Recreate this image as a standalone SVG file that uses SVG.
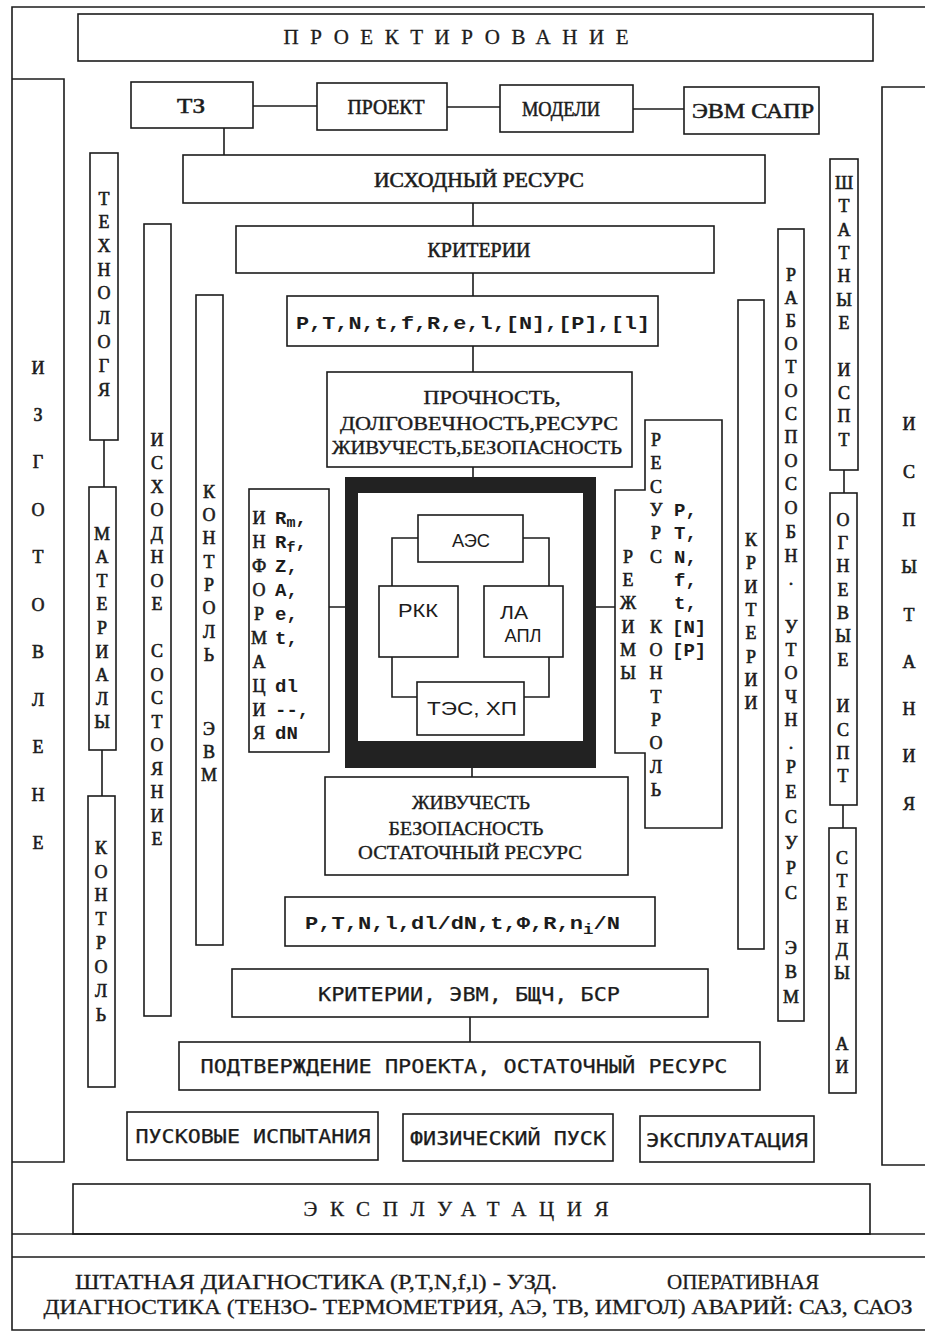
<svg xmlns="http://www.w3.org/2000/svg" width="925" height="1333" viewBox="0 0 925 1333">
<style>
.b{fill:none;stroke:#1c1c1c;stroke-width:1.6}
.c{fill:none;stroke:#1c1c1c;stroke-width:1.6}
.m{font-family:"Liberation Mono","DejaVu Sans Mono",monospace;font-weight:bold;font-size:19px;fill:#1c1c1c}
.v{font-family:"Liberation Serif","DejaVu Serif",serif;font-size:18px;fill:#1c1c1c;stroke:#1c1c1c;stroke-width:0.6;text-anchor:middle}
.s{font-family:"Liberation Serif","DejaVu Serif",serif;font-size:19px;fill:#1c1c1c;stroke:#1c1c1c;stroke-width:0.35;text-anchor:middle}
.t{font-family:"Liberation Serif","DejaVu Serif",serif;font-size:21px;fill:#1c1c1c;stroke:#1c1c1c;stroke-width:0.55;text-anchor:middle}
.q{font-family:"Liberation Serif","DejaVu Serif",serif;font-size:21px;fill:#1c1c1c;stroke:#1c1c1c;stroke-width:0.3;text-anchor:middle}
.n{font-family:"Liberation Sans","DejaVu Sans",sans-serif;font-size:19px;fill:#1c1c1c;text-anchor:middle}
.g{font-family:"DejaVu Sans Mono","Liberation Mono",monospace;font-size:19px;fill:#1c1c1c;stroke:#1c1c1c;stroke-width:0.25;text-anchor:middle}
</style>
<rect width="925" height="1333" fill="#ffffff"/>
<g id="frame" class="b">
<path d="M925,7 H12 V1330 H925"/>
<path d="M12,1234 H925 M12,1257 H925"/>
</g>
<g id="proektirovanie">
<rect class="b" x="78" y="14" width="795" height="47"/>
<text class="q" x="456" y="44" textLength="345" lengthAdjust="spacing">ПРОЕКТИРОВАНИЕ</text>
</g>
<g id="tz"><rect class="b" x="131" y="82" width="122" height="46"/><text class="t" x="191" y="113" textLength="28" lengthAdjust="spacingAndGlyphs">ТЗ</text></g>
<g id="proekt"><rect class="b" x="317" y="83" width="130" height="47"/><text class="t" x="386" y="114" textLength="77" lengthAdjust="spacingAndGlyphs">ПРОЕКТ</text></g>
<g id="modeli"><rect class="b" x="500" y="85" width="133" height="47"/><text class="t" x="561" y="116" textLength="78" lengthAdjust="spacingAndGlyphs">МОДЕЛИ</text></g>
<g id="evm-sapr"><rect class="b" x="684" y="87" width="135" height="47"/><text class="t" x="753" y="118" textLength="122" lengthAdjust="spacingAndGlyphs">ЭВМ   САПР</text></g>
<g id="iskhodny-resurs"><rect class="b" x="183" y="155" width="582" height="48"/><text class="t" x="479" y="187" textLength="210" lengthAdjust="spacingAndGlyphs">ИСХОДНЫЙ   РЕСУРС</text></g>
<g id="kriterii"><rect class="b" x="236" y="226" width="478" height="47"/><text class="t" x="479" y="257" textLength="103" lengthAdjust="spacingAndGlyphs">КРИТЕРИИ</text></g>
<g id="params1"><rect class="b" x="287" y="296" width="371" height="50"/><text class="m" x="296" y="329" textLength="354" lengthAdjust="spacingAndGlyphs" font-size="21">P,T,N,t,f,R,e,l,[N],[P],[l]</text></g>
<g id="prochnost"><rect class="b" x="327" y="372" width="305" height="95"/>
<text class="s" x="492" y="404" textLength="137" lengthAdjust="spacingAndGlyphs">ПРОЧНОСТЬ,</text>
<text class="s" x="479" y="430" textLength="278" lengthAdjust="spacingAndGlyphs">ДОЛГОВЕЧНОСТЬ,РЕСУРС</text>
<text class="s" x="477" y="454" textLength="290" lengthAdjust="spacingAndGlyphs">ЖИВУЧЕСТЬ,БЕЗОПАСНОСТЬ</text></g>
<g id="objects-frame">
<rect x="345" y="477" width="251" height="291" fill="#222222"/>
<rect x="358" y="493" width="225" height="248" fill="#ffffff"/>
</g>
<g id="aes"><rect class="b" x="418" y="515" width="105" height="47"/><text class="n" x="471" y="547" textLength="38" lengthAdjust="spacingAndGlyphs">АЭС</text></g>
<g id="rkk"><rect class="b" x="379" y="586" width="79" height="71"/><text class="n" x="418" y="617" textLength="40" lengthAdjust="spacingAndGlyphs">РКК</text></g>
<g id="la-apl"><rect class="b" x="484" y="586" width="79" height="71"/><text class="n" x="514" y="619" textLength="28" lengthAdjust="spacingAndGlyphs">ЛА</text><text class="n" x="523" y="642" textLength="37" lengthAdjust="spacingAndGlyphs">АПЛ</text></g>
<g id="tes-khp"><rect class="b" x="417" y="682" width="107" height="53"/><text class="n" x="472" y="715" textLength="90" lengthAdjust="spacingAndGlyphs">ТЭС,  ХП</text></g>
<g id="informatsiya"><rect class="b" x="249" y="489" width="80" height="263"/>
<text class="v"><tspan x="259" y="524">И</tspan><tspan x="259" y="548">Н</tspan><tspan x="259" y="572">Ф</tspan><tspan x="259" y="596">О</tspan><tspan x="259" y="620">Р</tspan><tspan x="259" y="644">М</tspan><tspan x="259" y="668">А</tspan><tspan x="259" y="692">Ц</tspan><tspan x="259" y="716">И</tspan><tspan x="259" y="739">Я</tspan></text>
<text class="m" font-weight="normal"><tspan x="275" y="524">R</tspan><tspan font-size="15" dy="3">m</tspan><tspan dy="-3">,</tspan></text>
<text class="m" font-weight="normal"><tspan x="275" y="548">R</tspan><tspan font-size="15" dy="4">f</tspan><tspan dy="-4">,</tspan></text>
<text class="m" font-weight="normal"><tspan x="275" y="572">Z,</tspan><tspan x="275" y="596">A,</tspan><tspan x="275" y="620">e,</tspan><tspan x="275" y="644">t,</tspan><tspan x="275" y="692">dl</tspan><tspan x="275" y="716">--,</tspan><tspan x="275" y="739">dN</tspan></text>
</g>
<g id="rezhimy-resurs-kontrol"><path class="b" d="M645,420 H722 V828 H645 V753 H615 V490 H645 Z"/>
<text class="v"><tspan x="656" y="446">Р</tspan><tspan x="656" y="469">Е</tspan><tspan x="656" y="493">С</tspan><tspan x="656" y="516">У</tspan><tspan x="656" y="539">Р</tspan><tspan x="656" y="563">С</tspan><tspan x="656" y="633">К</tspan><tspan x="656" y="656">О</tspan><tspan x="656" y="679">Н</tspan><tspan x="656" y="703">Т</tspan><tspan x="656" y="726">Р</tspan><tspan x="656" y="749">О</tspan><tspan x="656" y="773">Л</tspan><tspan x="656" y="796">Ь</tspan></text>
<text class="v"><tspan x="628" y="563">Р</tspan><tspan x="628" y="586">Е</tspan><tspan x="628" y="609">Ж</tspan><tspan x="628" y="633">И</tspan><tspan x="628" y="656">М</tspan><tspan x="628" y="679">Ы</tspan></text>
<text class="m" font-weight="normal"><tspan x="674" y="516">P,</tspan><tspan x="674" y="539">T,</tspan><tspan x="674" y="563">N,</tspan><tspan x="674" y="586">f,</tspan><tspan x="674" y="609">t,</tspan><tspan x="672" y="633">[N]</tspan><tspan x="672" y="656">[P]</tspan></text>
</g>
<g id="zhivuchest"><rect class="b" x="325" y="777" width="303" height="98"/>
<text class="s" x="471" y="809" textLength="118" lengthAdjust="spacingAndGlyphs">ЖИВУЧЕСТЬ</text>
<text class="s" x="466" y="835" textLength="155" lengthAdjust="spacingAndGlyphs">БЕЗОПАСНОСТЬ</text>
<text class="s" x="470" y="859" textLength="224" lengthAdjust="spacingAndGlyphs">ОСТАТОЧНЫЙ РЕСУРС</text></g>
<g id="params2"><rect class="b" x="285" y="897" width="370" height="49"/>
<text class="m" font-weight="normal" x="305" y="929" textLength="315" lengthAdjust="spacingAndGlyphs">P,T,N,l,dl/dN,t,Φ,R,n<tspan font-size="15" dy="5">i</tspan><tspan dy="-5">/N</tspan></text></g>
<g id="kriterii-evm"><rect class="b" x="232" y="969" width="476" height="48"/><text class="g" x="469" y="1001" textLength="302" lengthAdjust="spacingAndGlyphs">КРИТЕРИИ, ЭВМ, БЩЧ, БСР</text></g>
<g id="podtverzhdenie"><rect class="b" x="179" y="1042" width="581" height="48"/><text class="g" x="464" y="1073" textLength="527" lengthAdjust="spacingAndGlyphs">ПОДТВЕРЖДЕНИЕ ПРОЕКТА, ОСТАТОЧНЫЙ РЕСУРС</text></g>
<g id="puskovye"><rect class="b" x="127" y="1112" width="251" height="48"/><text class="g" x="253" y="1143" textLength="235" lengthAdjust="spacingAndGlyphs">ПУСКОВЫЕ ИСПЫТАНИЯ</text></g>
<g id="fizicheskiy"><rect class="b" x="403" y="1114" width="210" height="47"/><text class="g" x="508" y="1145" textLength="196" lengthAdjust="spacingAndGlyphs">ФИЗИЧЕСКИЙ ПУСК</text></g>
<g id="ekspluatatsiya-small"><rect class="b" x="640" y="1116" width="174" height="46"/><text class="g" x="727" y="1147" textLength="162" lengthAdjust="spacingAndGlyphs">ЭКСПЛУАТАЦИЯ</text></g>
<g id="ekspluatatsiya"><rect class="b" x="73" y="1184" width="797" height="50"/><text class="q" x="456" y="1216" textLength="305" lengthAdjust="spacing">ЭКСПЛУАТАЦИЯ</text></g>
<g id="diagnostika">
<text class="q" x="316" y="1289" textLength="482" lengthAdjust="spacingAndGlyphs">ШТАТНАЯ ДИАГНОСТИКА (P,T,N,f,l) - УЗД.</text>
<text class="q" x="743" y="1289" textLength="152" lengthAdjust="spacingAndGlyphs">ОПЕРАТИВНАЯ</text>
<text class="q" x="478" y="1314" textLength="869" lengthAdjust="spacingAndGlyphs">ДИАГНОСТИКА (ТЕНЗО- ТЕРМОМЕТРИЯ, АЭ, ТВ, ИМГОЛ) АВАРИЙ: САЗ, САОЗ</text>
</g>
<g id="izgotovlenie"><path class="b" d="M12,79 H64 V1162 H12"/>
<text class="v"><tspan x="38" y="374">И</tspan><tspan x="38" y="421">З</tspan><tspan x="38" y="468">Г</tspan><tspan x="38" y="516">О</tspan><tspan x="38" y="563">Т</tspan><tspan x="38" y="611">О</tspan><tspan x="38" y="658">В</tspan><tspan x="38" y="706">Л</tspan><tspan x="38" y="753">Е</tspan><tspan x="38" y="801">Н</tspan><tspan x="38" y="849">Е</tspan></text></g>
<g id="tekhnologiya"><rect class="b" x="90" y="153" width="28" height="287"/>
<text class="v"><tspan x="104" y="205">Т</tspan><tspan x="104" y="228">Е</tspan><tspan x="104" y="252">Х</tspan><tspan x="104" y="276">Н</tspan><tspan x="104" y="299">О</tspan><tspan x="104" y="324">Л</tspan><tspan x="104" y="348">О</tspan><tspan x="104" y="372">Г</tspan><tspan x="104" y="396">Я</tspan></text></g>
<g id="materialy"><rect class="b" x="89" y="487" width="27" height="263"/>
<text class="v"><tspan x="102" y="540">М</tspan><tspan x="102" y="563">А</tspan><tspan x="102" y="587">Т</tspan><tspan x="102" y="610">Е</tspan><tspan x="102" y="634">Р</tspan><tspan x="102" y="658">И</tspan><tspan x="102" y="681">А</tspan><tspan x="102" y="705">Л</tspan><tspan x="102" y="728">Ы</tspan></text></g>
<g id="kontrol"><rect class="b" x="88" y="796" width="27" height="291"/>
<text class="v"><tspan x="101" y="854">К</tspan><tspan x="101" y="878">О</tspan><tspan x="101" y="901">Н</tspan><tspan x="101" y="925">Т</tspan><tspan x="101" y="949">Р</tspan><tspan x="101" y="973">О</tspan><tspan x="101" y="997">Л</tspan><tspan x="101" y="1021">Ь</tspan></text></g>
<g id="iskhodnoe-sostoyanie"><rect class="b" x="144" y="224" width="27" height="792"/>
<text class="v"><tspan x="157" y="446">И</tspan><tspan x="157" y="469">С</tspan><tspan x="157" y="493">Х</tspan><tspan x="157" y="516">О</tspan><tspan x="157" y="540">Д</tspan><tspan x="157" y="563">Н</tspan><tspan x="157" y="587">О</tspan><tspan x="157" y="610">Е</tspan><tspan x="157" y="657">С</tspan><tspan x="157" y="681">О</tspan><tspan x="157" y="704">С</tspan><tspan x="157" y="728">Т</tspan><tspan x="157" y="751">О</tspan><tspan x="157" y="775">Я</tspan><tspan x="157" y="798">Н</tspan><tspan x="157" y="822">И</tspan><tspan x="157" y="845">Е</tspan></text></g>
<g id="kontrol-evm"><rect class="b" x="196" y="295" width="27" height="650"/>
<text class="v"><tspan x="209" y="498">К</tspan><tspan x="209" y="521">О</tspan><tspan x="209" y="544">Н</tspan><tspan x="209" y="568">Т</tspan><tspan x="209" y="591">Р</tspan><tspan x="209" y="614">О</tspan><tspan x="209" y="638">Л</tspan><tspan x="209" y="661">Ь</tspan><tspan x="209" y="735">Э</tspan><tspan x="209" y="758">В</tspan><tspan x="209" y="781">М</tspan></text></g>
<g id="kriterii-v"><rect class="b" x="738" y="300" width="26" height="649"/>
<text class="v"><tspan x="751" y="546">К</tspan><tspan x="751" y="569">Р</tspan><tspan x="751" y="593">И</tspan><tspan x="751" y="616">Т</tspan><tspan x="751" y="639">Е</tspan><tspan x="751" y="663">Р</tspan><tspan x="751" y="686">И</tspan><tspan x="751" y="709">И</tspan></text></g>
<g id="rabotosposobn"><rect class="b" x="778" y="229" width="26" height="792"/>
<text class="v"><tspan x="791" y="281">Р</tspan><tspan x="791" y="304">А</tspan><tspan x="791" y="327">Б</tspan><tspan x="791" y="350">О</tspan><tspan x="791" y="373">Т</tspan><tspan x="791" y="397">О</tspan><tspan x="791" y="420">С</tspan><tspan x="791" y="443">П</tspan><tspan x="791" y="467">О</tspan><tspan x="791" y="490">С</tspan><tspan x="791" y="514">О</tspan><tspan x="791" y="538">Б</tspan><tspan x="791" y="562">Н</tspan><tspan x="791" y="585">.</tspan><tspan x="791" y="633">У</tspan><tspan x="791" y="656">Т</tspan><tspan x="791" y="679">О</tspan><tspan x="791" y="703">Ч</tspan><tspan x="791" y="726">Н</tspan><tspan x="791" y="749">.</tspan><tspan x="791" y="773">Р</tspan><tspan x="791" y="798">Е</tspan><tspan x="791" y="823">С</tspan><tspan x="791" y="849">У</tspan><tspan x="791" y="874">Р</tspan><tspan x="791" y="899">С</tspan><tspan x="791" y="954">Э</tspan><tspan x="791" y="978">В</tspan><tspan x="791" y="1003">М</tspan></text></g>
<g id="shtatnye-ispt"><rect class="b" x="830" y="159" width="28" height="311"/>
<text class="v"><tspan x="844" y="189">Ш</tspan><tspan x="844" y="212">Т</tspan><tspan x="844" y="236">А</tspan><tspan x="844" y="259">Т</tspan><tspan x="844" y="282">Н</tspan><tspan x="844" y="306">Ы</tspan><tspan x="844" y="329">Е</tspan><tspan x="844" y="376">И</tspan><tspan x="844" y="399">С</tspan><tspan x="844" y="422">П</tspan><tspan x="844" y="446">Т</tspan></text></g>
<g id="ognevye-ispt"><rect class="b" x="830" y="493" width="27" height="312"/>
<text class="v"><tspan x="843" y="526">О</tspan><tspan x="843" y="549">Г</tspan><tspan x="843" y="572">Н</tspan><tspan x="843" y="596">Е</tspan><tspan x="843" y="619">В</tspan><tspan x="843" y="642">Ы</tspan><tspan x="843" y="666">Е</tspan><tspan x="843" y="712">И</tspan><tspan x="843" y="736">С</tspan><tspan x="843" y="759">П</tspan><tspan x="843" y="782">Т</tspan></text></g>
<g id="stendy-ai"><rect class="b" x="829" y="828" width="27" height="265"/>
<text class="v"><tspan x="842" y="864">С</tspan><tspan x="842" y="887">Т</tspan><tspan x="842" y="910">Е</tspan><tspan x="842" y="933">Н</tspan><tspan x="842" y="956">Д</tspan><tspan x="842" y="979">Ы</tspan><tspan x="842" y="1050">А</tspan><tspan x="842" y="1073">И</tspan></text></g>
<g id="ispytaniya"><path class="b" d="M925,87 H882 V1165 H925"/>
<text class="v"><tspan x="909" y="430">И</tspan><tspan x="909" y="478">С</tspan><tspan x="909" y="526">П</tspan><tspan x="909" y="573">Ы</tspan><tspan x="909" y="621">Т</tspan><tspan x="909" y="668">А</tspan><tspan x="909" y="715">Н</tspan><tspan x="909" y="762">И</tspan><tspan x="909" y="810">Я</tspan></text></g>
<g id="connectors" class="c">
<path d="M253,106 H317 M447,107 H500 M633,109 H684"/>
<path d="M224,128 V155"/>
<path d="M473,203 V226 M473,273 V296 M473,346 V372 M473,467 V477 M472,768 V777 M470,1017 V1042"/>
<path d="M418,538 H392 V586 M523,538 H549 V586 M392,657 V697 H417 M549,657 V697 H524"/>
<path d="M329,607 H345 M596,607 H615"/>
<path d="M104,440 V487 M102,750 V796"/>
<path d="M844,470 V493 M843,805 V828"/>
</g>
</svg>
